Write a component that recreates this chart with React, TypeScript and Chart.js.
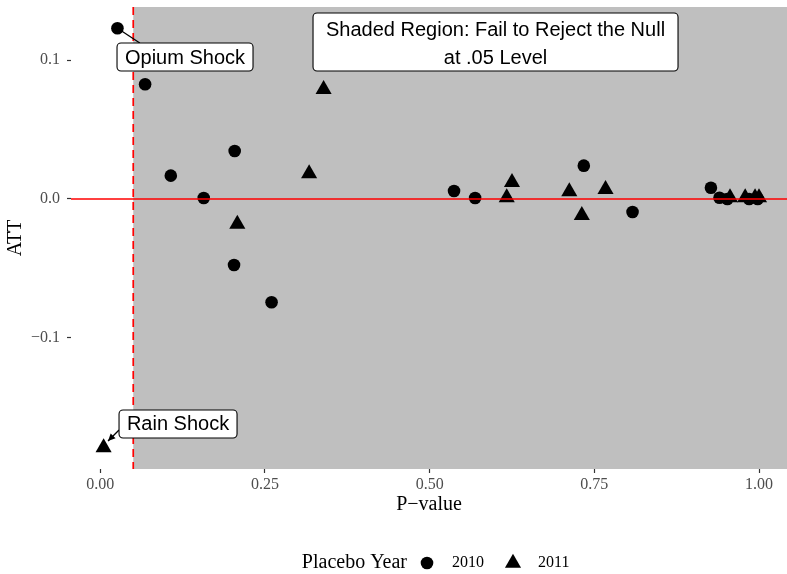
import React, { useEffect, useRef } from "react";
import { Chart, registerables } from "chart.js";

Chart.register(...registerables);

// ---- data ----
const xTicks = [0, 0.25, 0.5, 0.75, 1];
const xTickLabels = ["0.00", "0.25", "0.50", "0.75", "1.00"];
const yTicks = [-0.1, 0, 0.1];
const yTickLabels = ["\u22120.1", "0.0", "0.1"];

const pval2010 = [0.026, 0.068, 0.107, 0.157, 0.204, 0.203, 0.26, 0.537, 0.569, 0.734, 0.808, 0.927, 0.94, 0.952, 0.985, 0.998];
const att2010 = [0.123, 0.0826, 0.0168, 0.0007, 0.0346, -0.0476, -0.0744, 0.0058, 0.0007, 0.024, -0.0094, 0.0081, 0.0009, 0.0, 0.0, 0.0];

const pval2011 = [0.005, 0.208, 0.317, 0.339, 0.625, 0.617, 0.712, 0.731, 0.767, 0.956, 0.979, 0.994, 1.0];
const att2011 = [-0.179, -0.018, 0.0183, 0.079, 0.012, 0.001, 0.0053, -0.0117, 0.007, 0.001, 0.001, 0.001, 0.001];

const seriesNames = ["2010", "2011"];
const legendTitle = "Placebo Year";
const sigLevel = 0.05;

const xTitle = "P\u2212value";
const yTitle = "ATT";

const labelTexts = [
  ["Opium Shock"],
  ["Rain Shock"],
  ["Shaded Region: Fail to Reject the Null", "at .05 Level"],
];

// annotation placement (data coordinates for anchors / box centres)
const annotations = [
  { lines: labelTexts[0], cx: 0.1286, cy: 0.1023, w: 136, h: 28, base: [7.3], from: [pval2010[0], att2010[0]], segEnd: [0.06, 0.1124], arrow: false },
  { lines: labelTexts[1], cx: 0.118, cy: -0.1621, w: 118, h: 28, base: [6], from: [0.0284, -0.1664], segEnd: [0.0117, -0.1743], arrow: true },
  { lines: labelTexts[2], cx: 0.6, cy: 0.1131, w: 365, h: 58, base: [-6, 22], from: null, segEnd: null, arrow: false },
];

const SERIF = "'Liberation Serif', 'Times New Roman', serif";
const SANS = "'Liberation Sans', Arial, sans-serif";

function roundRect(ctx: CanvasRenderingContext2D, x: number, y: number, w: number, h: number, r: number) {
  ctx.beginPath();
  ctx.moveTo(x + r, y);
  ctx.lineTo(x + w - r, y);
  ctx.arcTo(x + w, y, x + w, y + r, r);
  ctx.lineTo(x + w, y + h - r);
  ctx.arcTo(x + w, y + h, x + w - r, y + h, r);
  ctx.lineTo(x + r, y + h);
  ctx.arcTo(x, y + h, x, y + h - r, r);
  ctx.lineTo(x, y + r);
  ctx.arcTo(x, y, x + r, y, r);
  ctx.closePath();
}

const decoPlugin = {
  id: "deco",
  beforeDatasetsDraw(chart: any) {
    const { ctx, chartArea: a, scales } = chart;
    const x0 = scales.x.getPixelForValue(sigLevel);
    ctx.save();
    ctx.fillStyle = "#bfbfbf";
    ctx.fillRect(x0, a.top, a.right - x0, a.bottom - a.top);
    ctx.restore();
  },
  afterDatasetsDraw(chart: any) {
    const { ctx, chartArea: a, scales } = chart;
    const xs = scales.x;
    const ys = scales.y;
    ctx.save();
    // dashed vertical line at significance level
    const x0 = xs.getPixelForValue(sigLevel);
    ctx.strokeStyle = "#ff0000";
    ctx.lineWidth = 1.7;
    ctx.setLineDash([8, 5]);
    ctx.beginPath();
    ctx.moveTo(x0, a.top);
    ctx.lineTo(x0, a.bottom);
    ctx.stroke();
    ctx.setLineDash([]);
    // horizontal line at 0
    const y0 = ys.getPixelForValue(0);
    ctx.beginPath();
    ctx.moveTo(a.left, y0);
    ctx.lineTo(a.right, y0);
    ctx.stroke();

    // annotation segments
    for (const an of annotations) {
      if (!an.from || !an.segEnd) continue;
      const px = xs.getPixelForValue(an.from[0]);
      const py = ys.getPixelForValue(an.from[1]);
      const ex = xs.getPixelForValue(an.segEnd[0]);
      const ey = ys.getPixelForValue(an.segEnd[1]);
      ctx.strokeStyle = "#000";
      ctx.fillStyle = "#000";
      ctx.lineWidth = 1.3;
      ctx.beginPath();
      ctx.moveTo(px, py);
      ctx.lineTo(ex, ey);
      ctx.stroke();
      if (an.arrow) {
        const ang = Math.atan2(ey - py, ex - px);
        const L = 8;
        ctx.beginPath();
        ctx.moveTo(ex, ey);
        ctx.lineTo(ex - L * Math.cos(ang - 0.45), ey - L * Math.sin(ang - 0.45));
        ctx.lineTo(ex - L * Math.cos(ang + 0.45), ey - L * Math.sin(ang + 0.45));
        ctx.closePath();
        ctx.fill();
      }
    }
    // annotation boxes
    for (const an of annotations) {
      const cx = xs.getPixelForValue(an.cx);
      const cy = ys.getPixelForValue(an.cy);
      const bx = cx - an.w / 2;
      const by = cy - an.h / 2;
      roundRect(ctx, bx, by, an.w, an.h, 4);
      ctx.fillStyle = "#ffffff";
      ctx.fill();
      ctx.strokeStyle = "#000";
      ctx.lineWidth = 1.1;
      ctx.stroke();
      ctx.fillStyle = "#000";
      ctx.font = `20px ${SANS}`;
      ctx.textAlign = "center";
      ctx.textBaseline = "alphabetic";
      an.lines.forEach((t, i) => {
        ctx.fillText(t, cx, cy + an.base[i]);
      });
    }
    ctx.restore();
  },
  afterDraw(chart: any) {
    const { ctx } = chart;
    const yc = 563;
    ctx.save();
    ctx.fillStyle = "#000";
    ctx.textBaseline = "middle";
    ctx.font = `20px ${SERIF}`;
    ctx.textAlign = "right";
    ctx.fillText(legendTitle, 407, yc);
    // circle key
    ctx.beginPath();
    ctx.arc(427, yc, 6.3, 0, Math.PI * 2);
    ctx.fill();
    ctx.font = `16px ${SERIF}`;
    ctx.textAlign = "left";
    ctx.fillText(seriesNames[0], 452, yc);
    // triangle key
    const r = 9.3;
    const tx = 513;
    ctx.beginPath();
    ctx.moveTo(tx, yc - r);
    ctx.lineTo(tx + r * Math.sin((2 * Math.PI) / 3), yc - r * Math.cos((2 * Math.PI) / 3));
    ctx.lineTo(tx + r * Math.sin((4 * Math.PI) / 3), yc - r * Math.cos((4 * Math.PI) / 3));
    ctx.closePath();
    ctx.fill();
    ctx.fillText(seriesNames[1], 538, yc);
    ctx.restore();
  },
};

export default function App() {
  const ref = useRef<HTMLCanvasElement | null>(null);
  useEffect(() => {
    if (!ref.current) return;
    const chart = new Chart(ref.current, {
      type: "scatter",
      data: {
        datasets: [
          {
            label: seriesNames[0],
            data: pval2010.map((p, i) => ({ x: p, y: att2010[i] })),
            pointStyle: "circle",
            pointRadius: 6.3,
            backgroundColor: "#000",
            borderWidth: 0,
          },
          {
            label: seriesNames[1],
            data: pval2011.map((p, i) => ({ x: p, y: att2011[i] })),
            pointStyle: "triangle",
            pointRadius: 9.3,
            backgroundColor: "#000",
            borderWidth: 0,
          },
        ],
      },
      options: {
        responsive: false,
        animation: false,
        devicePixelRatio: 1,
        events: [],
        layout: { autoPadding: false, padding: { top: 7, left: 0, right: 0, bottom: 57 } },
        plugins: { legend: { display: false }, tooltip: { enabled: false } },
        scales: {
          x: {
            type: "linear",
            min: -0.0445,
            max: 1.0425,
            afterBuildTicks: (s: any) => {
              s.ticks = xTicks.map((v) => ({ value: v }));
            },
            afterFit: (s: any) => {
              s.height = 48;
              s.paddingLeft = 0;
              s.paddingRight = 0;
            },
            ticks: {
              autoSkip: false,
              maxRotation: 0,
              padding: 2,
              color: "#4d4d4d",
              font: { family: SERIF, size: 16 },
              callback: (_v: any, i: number) => xTickLabels[i],
            },
            grid: { display: true, drawOnChartArea: false, drawTicks: true, tickLength: 4, tickColor: "#333333", tickWidth: 1.2 },
            border: { display: false },
            title: { display: true, text: xTitle, color: "#000", font: { family: SERIF, size: 20 }, padding: 0 },
          },
          y: {
            type: "linear",
            min: -0.1945,
            max: 0.1383,
            afterBuildTicks: (s: any) => {
              s.ticks = yTicks.map((v) => ({ value: v }));
            },
            afterFit: (s: any) => {
              s.width = 71;
              s.paddingTop = 0;
              s.paddingBottom = 0;
            },
            ticks: {
              autoSkip: false,
              padding: 7,
              color: "#4d4d4d",
              font: { family: SERIF, size: 16 },
              callback: (_v: any, i: number) => yTickLabels[i],
            },
            grid: { display: true, drawOnChartArea: false, drawTicks: true, tickLength: 4, tickColor: "#333333", tickWidth: 1.2 },
            border: { display: false },
            title: { display: true, text: yTitle, color: "#000", font: { family: SERIF, size: 20 }, padding: { top: 3.5, bottom: 0 } },
          },
        },
      },
      plugins: [decoPlugin],
    });
    return () => chart.destroy();
  }, []);
  return (
    <div style={{ position: "fixed", left: 0, top: 0, width: 787, height: 574, background: "#fff" }}>
      <canvas ref={ref} width={787} height={574} style={{ width: 787, height: 574, display: "block" }} />
    </div>
  );
}
